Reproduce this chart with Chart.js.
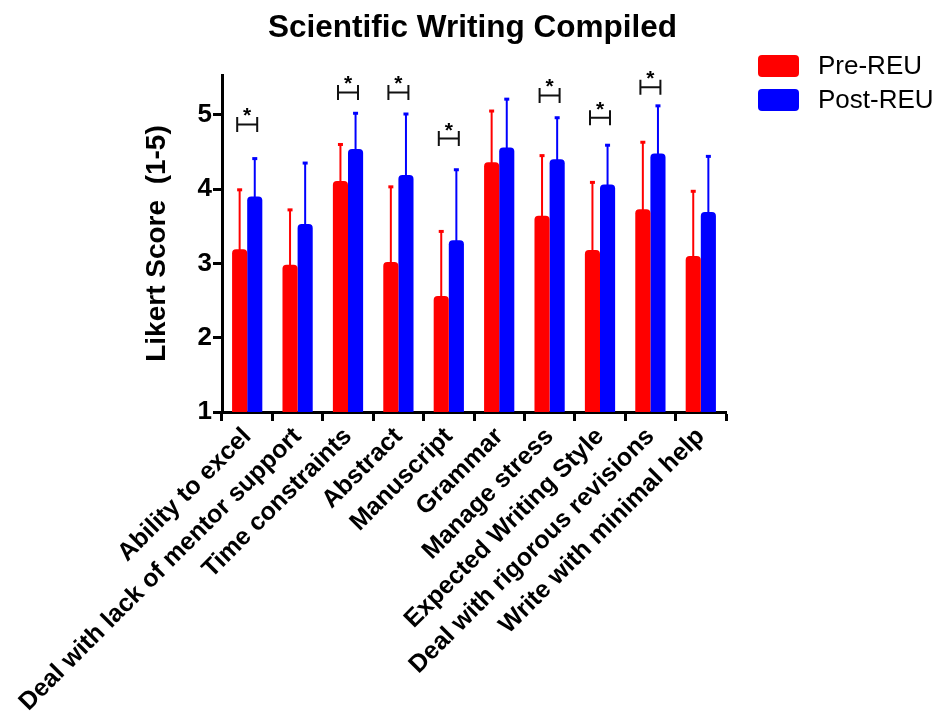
<!DOCTYPE html>
<html><head><meta charset="utf-8">
<script src="https://cdn.jsdelivr.net/npm/chart.js@4.4.1/dist/chart.umd.min.js"></script>
<style>html,body{margin:0;padding:0;background:#fff}#wrap{width:935px;height:717px}</style>
</head><body><div id="wrap"><canvas id="c" width="935" height="717"></canvas></div>
<script>
const categories = ["Ability to excel","Deal with lack of mentor support","Time constraints","Abstract","Manuscript","Grammar","Manage stress","Expected Writing Style","Deal with rigorous revisions","Write with minimal help"];
const preMeans  = [3.19, 2.98, 4.11, 3.02, 2.56, 4.36, 3.64, 3.18, 3.73, 3.10];
const preSD     = [0.80, 0.74, 0.49, 1.01, 0.87, 0.69, 0.81, 0.91, 0.90, 0.87];
const postMeans = [3.90, 3.53, 4.54, 4.19, 3.31, 4.56, 4.40, 4.06, 4.48, 3.69];
const postSD    = [0.51, 0.82, 0.48, 0.82, 0.95, 0.65, 0.56, 0.53, 0.64, 0.75];
const sigLevels = [4.87, null, 5.30, 5.30, 4.68, null, 5.26, 4.96, 5.37, null];
const yTicks = [1, 2, 3, 4, 5];
const seriesNames = ["Pre-REU", "Post-REU"];
const seriesColors = ["#ff0000", "#0000ff"];

const FONT = '"Liberation Sans", Arial, Helvetica, sans-serif';

const errorBars = {
  id: 'errorBars',
  afterDatasetsDraw(chart) {
    const ctx = chart.ctx, y = chart.scales.y;
    const sds = [preSD, postSD], means = [preMeans, postMeans];
    ctx.save();
    for (let d = 0; d < 2; d++) {
      const meta = chart.getDatasetMeta(d);
      ctx.strokeStyle = seriesColors[d];
      ctx.fillStyle = seriesColors[d];
      ctx.lineWidth = 2;
      meta.data.forEach((bar, i) => {
        const top = y.getPixelForValue(means[d][i] + sds[d][i]);
        ctx.beginPath();
        ctx.moveTo(bar.x, bar.y + 2);
        ctx.lineTo(bar.x, top);
        ctx.stroke();
        ctx.fillRect(bar.x - 2.5, top - 1.5, 5, 3);
      });
    }
    // significance brackets
    const x = chart.scales.x;
    ctx.strokeStyle = '#111';
    ctx.fillStyle = '#000';
    ctx.lineWidth = 2;
    ctx.font = 'bold 21px ' + FONT;
    ctx.textAlign = 'center';
    ctx.textBaseline = 'alphabetic';
    sigLevels.forEach((v, i) => {
      if (v == null) return;
      const cx = x.getPixelForValue(i);
      const cy = y.getPixelForValue(v);
      ctx.beginPath();
      ctx.moveTo(cx - 10, cy); ctx.lineTo(cx + 10, cy);
      ctx.moveTo(cx - 10, cy - 7.5); ctx.lineTo(cx - 10, cy + 7.5);
      ctx.moveTo(cx + 10, cy - 7.5); ctx.lineTo(cx + 10, cy + 7.5);
      ctx.stroke();
      ctx.fillText('*', cx, cy - 2);
    });
    ctx.restore();
  },
  afterDraw(chart) {
    const ctx = chart.ctx, ca = chart.chartArea;
    ctx.save();
    ctx.fillStyle = '#000';
    ctx.font = 'bold 31.5px ' + FONT;
    ctx.textAlign = 'center';
    ctx.textBaseline = 'alphabetic';
    ctx.fillText('Scientific Writing Compiled', (ca.left + ca.right) / 2 - 1.5, 37);
    // legend
    ctx.font = '26px ' + FONT;
    ctx.textAlign = 'left';
    ctx.textBaseline = 'middle';
    seriesNames.forEach((n, k) => {
      const by = 55 + k * 34;
      ctx.fillStyle = seriesColors[k];
      ctx.beginPath();
      ctx.roundRect(758, by, 41, 22, 4);
      ctx.fill();
      ctx.fillStyle = '#000';
      ctx.fillText(n, 818, by + 12);
    });
    ctx.restore();
  }
};

new Chart(document.getElementById('c'), {
  type: 'bar',
  data: {
    labels: categories,
    datasets: [
      { label: seriesNames[0], data: preMeans, backgroundColor: seriesColors[0], borderRadius: {topLeft: 4, topRight: 4}, borderSkipped: 'start' },
      { label: seriesNames[1], data: postMeans, backgroundColor: seriesColors[1], borderRadius: {topLeft: 4, topRight: 4}, borderSkipped: 'start' }
    ]
  },
  options: {
    responsive: false,
    devicePixelRatio: 1,
    animation: false,
    layout: { padding: { left: 128, right: 209, top: 75, bottom: 0 } },
    datasets: { bar: { barPercentage: 1.0, categoryPercentage: 0.6 } },
    plugins: { legend: { display: false }, title: { display: false }, tooltip: { enabled: false } },
    scales: {
      x: {
        type: 'category',
        offset: true,
        grid: { display: true, drawOnChartArea: false, drawTicks: true, tickLength: 9, tickWidth: 3, tickColor: '#000' },
        border: { display: true, width: 3, color: '#000' },
        ticks: { autoSkip: false, maxRotation: 45, minRotation: 45, padding: 1, color: '#000', font: { family: FONT, size: 25, weight: 'bold' } },
        afterFit(scale) { scale.height = 305; }
      },
      y: {
        type: 'linear',
        min: 1, max: 5.535,
        afterBuildTicks(scale) { scale.ticks = yTicks.map(v => ({ value: v })); },
        grid: { display: true, drawOnChartArea: false, drawTicks: true, tickLength: 9, tickWidth: 3, tickColor: '#000' },
        border: { display: true, width: 3, color: '#000' },
        ticks: { padding: 1, color: '#000', font: { family: FONT, size: 26, weight: 'bold' } },
        title: { display: true, text: 'Likert Score  (1-5)', color: '#000', padding: { top: 12, bottom: 0 }, font: { family: FONT, size: 28, weight: 'bold' } },
        afterFit(scale) { scale.width = 94; }
      }
    }
  },
  plugins: [errorBars]
});
</script></body></html>
